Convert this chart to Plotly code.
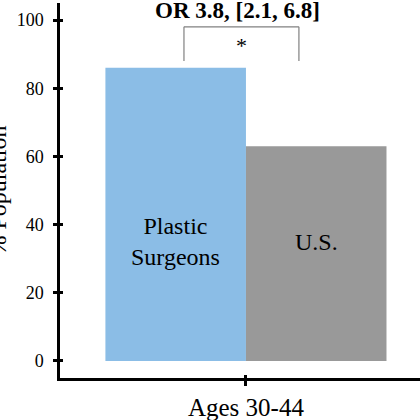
import plotly.graph_objects as go

# data
groups = ["Ages 30-44"]
series = ["Plastic Surgeons", "U.S."]
series_labels = ["Plastic<br>Surgeons", "U.S."]
values = [86, 63]
odds_text = "OR 3.8, [2.1, 6.8]"
sig_mark = "*"
y_ticks = [0, 20, 40, 60, 80, 100]

colors = ["#8bbde6", "#999999"]
serif = "Liberation Serif"
bargap = 0.22
half = (1 - bargap) / 4  # offset of each bar centre from the group centre

fig = go.Figure()
for name, val, col in zip(series, values, colors):
    fig.add_trace(go.Bar(x=groups, y=[val], name=name, marker_color=col,
                         marker_line_width=0))

# labels inside the bars
for i, lab in enumerate(series_labels):
    fig.add_annotation(x=(-half if i == 0 else half), y=35, xref="x", yref="y",
                       text=lab, showarrow=False,
                       font=dict(family=serif, size=24, color="black"))

# significance bracket
bx0, bx1 = -0.172, 0.147
btop, bbot = 98, 88
for x0, y0, x1, y1 in [(bx0, bbot, bx0, btop), (bx0, btop, bx1, btop), (bx1, btop, bx1, bbot)]:
    fig.add_shape(type="line", x0=x0, y0=y0, x1=x1, y1=y1, xref="x", yref="y",
                  line=dict(color="#808080", width=1.2))
fig.add_annotation(x=(bx0 + bx1) / 2, y=92.5, xref="x", yref="y", text=sig_mark,
                   showarrow=False, font=dict(family=serif, size=22, color="black"))
fig.add_annotation(x=(bx0 + bx1) / 2 - 0.01, y=102.9, xref="x", yref="y",
                   text="<b>" + odds_text + "</b>", showarrow=False,
                   font=dict(family=serif, size=23, color="black"))

# y axis title, mostly cut off on the left like the original
fig.add_annotation(x=-0.175, y=0.5, xref="paper", yref="paper", text="% Population",
                   textangle=-90, showarrow=False, xanchor="center", yanchor="middle",
                   font=dict(family=serif, size=24, color="black"))

fig.update_layout(
    template="none",
    width=420, height=420,
    margin=dict(l=60, r=0, t=3, b=42),
    plot_bgcolor="white", paper_bgcolor="white",
    barmode="group", bargap=bargap, bargroupgap=0,
    showlegend=False,
    font=dict(family=serif, color="black"),
    xaxis=dict(type="category", range=[-0.516, 0.483], showline=True, linecolor="black",
               linewidth=2.5, ticks="outside", ticklen=5, tickwidth=2.5, tickcolor="black",
               tickfont=dict(family=serif, size=25), showgrid=False, zeroline=False,
               automargin=False),
    yaxis=dict(range=[-5, 105], tickvals=y_ticks, showline=True, linecolor="black",
               linewidth=2.5, ticks="outside", ticklen=4, tickwidth=2.5, tickcolor="black",
               tickfont=dict(family=serif, size=18), ticklabelstandoff=6, showgrid=False,
               zeroline=False, automargin=False),
    # second axes only to draw the inner half of the crossing ticks
    xaxis2=dict(type="category", overlaying="x", range=[-0.516, 0.483], side="bottom",
                ticks="inside", ticklen=3, tickwidth=2.5, tickcolor="black",
                showticklabels=False, showgrid=False, zeroline=False, showline=False,
                anchor="y", automargin=False),
    yaxis2=dict(overlaying="y", range=[-5, 105], tickvals=y_ticks, side="left",
                ticks="inside", ticklen=3, tickwidth=2.5, tickcolor="black",
                showticklabels=False, showgrid=False, zeroline=False, showline=False,
                anchor="x", automargin=False),
)
# invisible trace so the overlay axes are drawn
fig.add_trace(go.Scatter(x=groups, y=[values[0]], xaxis="x2", yaxis="y2",
                         mode="markers", marker_opacity=0, hoverinfo="skip",
                         showlegend=False))

# drop the browser's default page margin so the figure sits at the window corner
fig.write_html("out.html", config={"displayModeBar": False},
               post_script="document.body.style.margin='0';")
